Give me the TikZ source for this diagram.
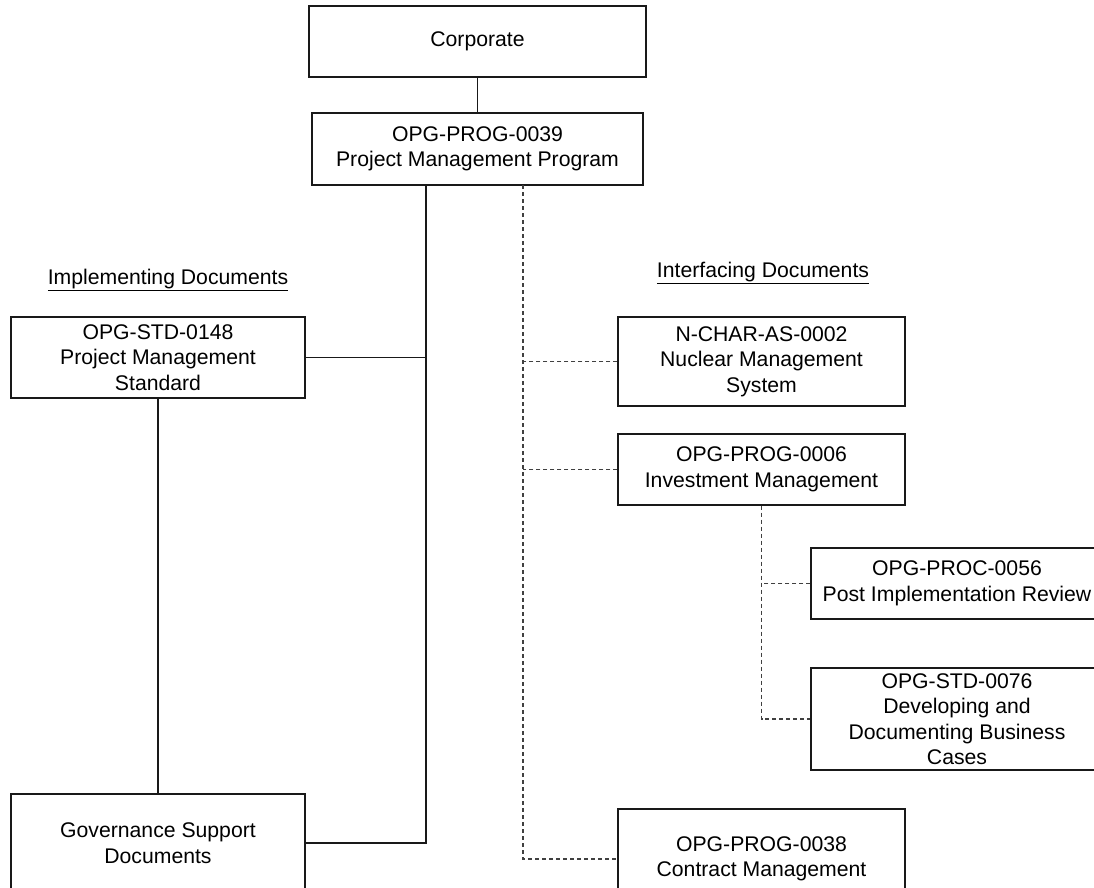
\documentclass[tikz,border=0pt]{standalone}
\usepackage{fontspec}
\setmainfont{Liberation Sans}
\usepackage{tikz}

\tikzset{
  docbox/.style={draw=black!90, line width=1.2pt, align=center, inner sep=0pt, fill=white},
  solidlink/.style={draw=black!90, line width=1.2pt},
  dashlink/.style={draw=black!75, line width=1.1pt, dash pattern=on 4pt off 3pt},
  heading/.style={inner sep=0pt}
}

\begin{document}
\begin{tikzpicture}[x=1pt, y=-1pt, font=\fontsize{21.2}{25.5}\selectfont]
\useasboundingbox (0,0) rectangle (1094,888);

\node [docbox, minimum width=337pt, minimum height=71pt] (corp) at (477.5,41.5) {Corporate};
\node [docbox, minimum width=331pt, minimum height=72pt] (prog39) at (477.5,149) {OPG-PROG-0039\\Project Management Program};

\node [heading] (impl) at (168,280) {\underline{Implementing Documents}};
\node [docbox, minimum width=294pt, minimum height=81pt] (std148) at (158,357.5) {OPG-STD-0148\\Project Management\\Standard};
\node [docbox, minimum width=294pt, minimum height=98pt] (gov) at (158,843) {Governance Support\\Documents};

\node [heading] (iface) at (763,273) {\underline{Interfacing Documents}};
\node [docbox, minimum width=287pt, minimum height=89pt] (nchar) at (761.5,361.5) {N-CHAR-AS-0002\\Nuclear Management\\System};
\node [docbox, minimum width=287pt, minimum height=71pt] (prog06) at (761.5,469.5) {OPG-PROG-0006\\Investment Management};
\node [docbox, minimum width=292pt, minimum height=71pt] (proc56) at (957,583.5) {OPG-PROC-0056\\Post Implementation Review};
\node [docbox, minimum width=292pt, minimum height=102pt] (std76) at (957,719) {OPG-STD-0076\\Developing and\\Documenting Business\\Cases};
\node [docbox, minimum width=287pt, minimum height=100pt] (prog38) at (761.5,859) {OPG-PROG-0038\\Contract Management};

\coordinate (impltrunk) at (426,185);
\coordinate (ifacetrunk) at (523,185);

% implementing side
\draw [solidlink] (corp.south) -- (prog39.north);
\draw [solidlink] (impltrunk) |- (gov.east);
\draw [solidlink] (std148.east) -- (std148.east -| impltrunk);
\draw [solidlink] (std148.south) -- (gov.north);

% interfacing side
\draw [dashlink] (ifacetrunk) |- (prog38.west);
\draw [dashlink] (nchar.west) -- (nchar.west -| ifacetrunk);
\draw [dashlink] (prog06.west) -- (prog06.west -| ifacetrunk);
\draw [dashlink] (prog06.south) |- (std76.west);
\draw [dashlink] (proc56.west) -- (proc56.west -| prog06.south);

\end{tikzpicture}
\end{document}
